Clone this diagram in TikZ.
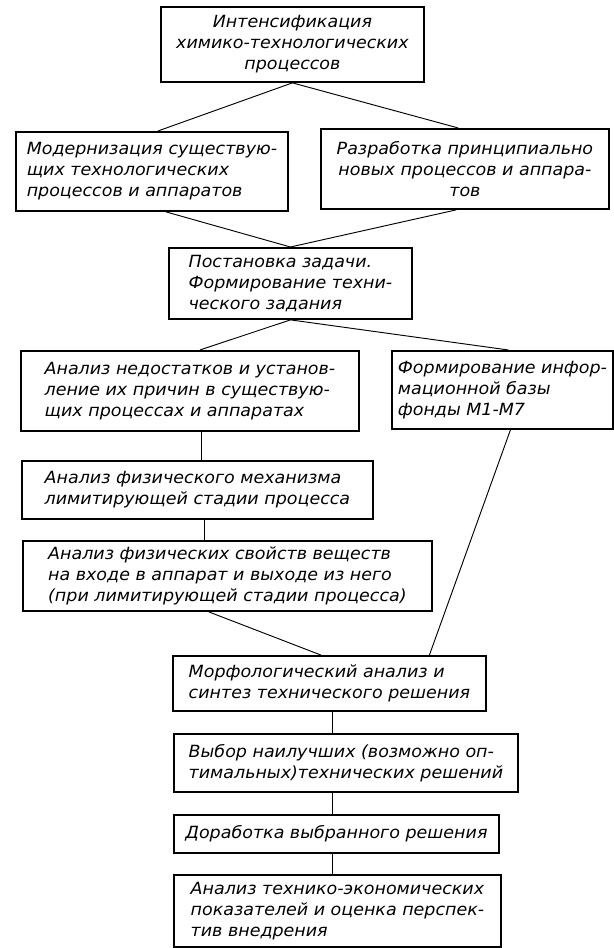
\documentclass[tikz,border=0pt]{standalone}
\usepackage{fontspec}
\setmainfont{DejaVu Sans}[ItalicFont={DejaVu Sans Oblique}, FakeStretch=1.04]
\usepackage{tikz}
\usetikzlibrary{positioning}
\tikzset{
  x = 0.75pt,
  y = -0.75pt,
  blk/.style 2 args = {draw, line width=1.4pt, rectangle, anchor=north west,
    inner xsep=3pt, inner ysep=0pt, align=left, minimum width=#1*0.75pt, minimum height=#2*0.75pt},
  wire/.style = {line width=0.7pt},
  every node/.style = {font=\itshape\fontsize{12.6}{15.8}\selectfont},
}

\begin{document}
\begin{tikzpicture}
\useasboundingbox (0,0) rectangle (613,948);
\node[blk={263}{75}, align=center] (intens) at (160,6)
  {Интенсификация\\химико-технологических\\процессов};
\node[blk={272}{79}] (modern) at (15,131)
  {Модернизация существую-\\щих технологических\\процессов и аппаратов};
\node[blk={288}{80}, align=center] (razrab) at (320,128)
  {Разработка принципиально\\новых процессов и аппара-\\тов};
\node[blk={243}{71}] (postan) at (168,247)
  {Постановка задачи.\\Формирование техни-\\ческого задания};
\node[blk={338}{80}] (nedost) at (20,350)
  {Анализ недостатков и установ-\\ление их причин в существую-\\щих процессах и аппаратах};
\node[blk={221}{78}] (inform) at (391,350)
  {Формирование инфор-\\мационной базы\\фонды М1-М7};
\node[blk={351}{58}] (mehan) at (21,460)
  {Анализ физического механизма\\лимитирующей стадии процесса};
\node[blk={409}{70}] (svoist) at (22,540)
  {Анализ физических свойств веществ\\на входе в аппарат и выходе из него\\(при лимитирующей стадии процесса)};
\node[blk={313}{55}] (morf) at (172,655)
  {Морфологический анализ и\\синтез технического решения};
\node[blk={344}{58}] (vybor) at (173,733)
  {Выбор наилучших (возможно оп-\\тимальных)технических решений};
\node[blk={325}{38}] (dorab) at (173,814)
  {Доработка выбранного решения};
\node[blk={327}{72}] (tehek) at (173,874)
  {Анализ технико-экономических\\показателей и оценка перспек-\\тив внедрения};

\draw[wire] (intens.south) -- ([xshift=4.5pt]modern.north);
\draw[wire] (intens.south) -- ([xshift=-5pt]razrab.north);
\draw[wire] ([xshift=10.5pt]modern.south) -- (postan.north);
\draw[wire] ([xshift=-6.5pt]razrab.south) -- (postan.north);
\draw[wire] (postan.south) -- ([xshift=7.5pt]nedost.north);
\draw[wire] (postan.south) -- ([xshift=4.5pt]inform.north);
\draw[wire] ([xshift=9pt]nedost.south) -- ([xshift=9pt]nedost.south |- mehan.north);
\draw[wire] ([xshift=5pt]mehan.south) -- ([xshift=5pt]mehan.south |- svoist.north);
\draw[wire] ([xshift=-14pt]svoist.south) -- ([xshift=-6.5pt]morf.north);
\draw[wire] ([xshift=6pt]inform.south) -- ([xshift=75pt]morf.north);
\draw[wire] ([xshift=2.5pt]morf.south) -- ([xshift=2.5pt]morf.south |- vybor.north);
\draw[wire] ([xshift=2.5pt]morf.south |- vybor.south) -- ([xshift=2.5pt]morf.south |- dorab.north);
\draw[wire] ([xshift=2.5pt]morf.south |- dorab.south) -- ([xshift=2.5pt]morf.south |- tehek.north);
\end{tikzpicture}
\end{document}
